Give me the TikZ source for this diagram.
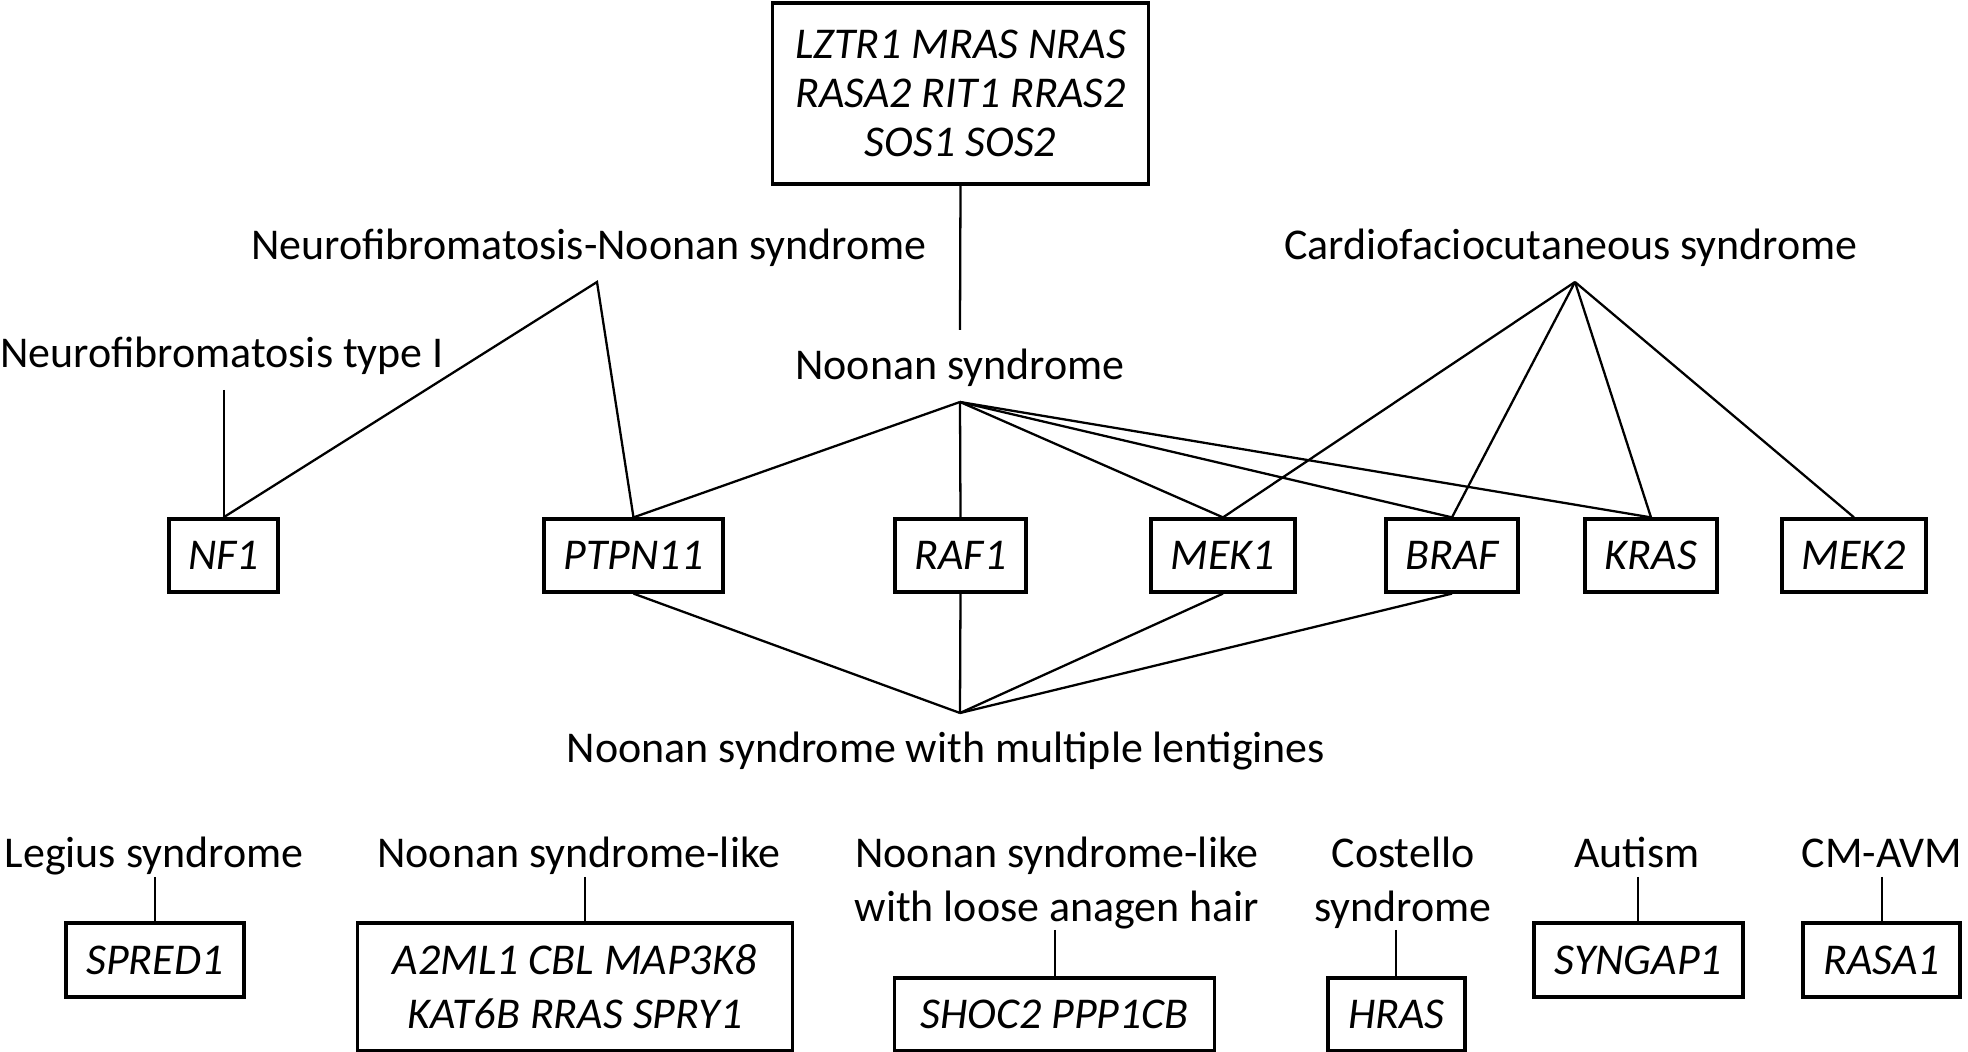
\documentclass[tikz,border=0pt]{standalone}
\usepackage{fontspec}
\setmainfont{Carlito}
\usetikzlibrary{positioning, calc}

\begin{document}
\begin{tikzpicture}[x=0.01cm, y=-0.01cm,
    every node/.style={font=\fontsize{12.5}{15.4}\selectfont},
    gene/.style={draw, line width=0.9pt, inner sep=0pt, minimum height=0.73cm, align=center,
        font=\fontsize{12.5}{15.3}\selectfont\itshape},
    syn/.style={inner sep=0pt, anchor=base, align=center},
    link/.style={line width=0.65pt}]
\useasboundingbox (0,0) rectangle (1968,1052);

% gene boxes
\node[gene, minimum width=3.75cm, minimum height=1.81cm,
      font=\fontsize{12.5}{13.9}\selectfont\itshape] (top) at (960.5,93.5)
      {LZTR1 MRAS NRAS\\RASA2 RIT1 RRAS2\\SOS1 SOS2};
\node[gene, minimum width=1.09cm] (nf1) at (223.5,555.5) {NF1};
\node[gene, minimum width=1.79cm] (ptpn11) at (633.5,555.5) {PTPN11};
\node[gene, minimum width=1.31cm] (raf1) at (960.5,555.5) {RAF1};
\node[gene, minimum width=1.44cm] (mek1) at (1223,555.5) {MEK1};
\node[gene, minimum width=1.32cm] (braf) at (1452,555.5) {BRAF};
\node[gene, minimum width=1.32cm] (kras) at (1651,555.5) {KRAS};
\node[gene, minimum width=1.44cm] (mek2) at (1854,555.5) {MEK2};

\node[gene, minimum width=1.78cm, minimum height=0.74cm] (spred1) at (155,960) {SPRED1};
\node[gene, minimum width=4.34cm, minimum height=1.28cm] (a2ml1) at (575,987) {A2ML1 CBL MAP3K8\\KAT6B RRAS SPRY1};
\node[gene, minimum width=3.19cm] (shoc2) at (1054.5,1014.5) {SHOC2 PPP1CB};
\node[gene, minimum width=1.37cm] (hras) at (1396.5,1014.5) {HRAS};
\node[gene, minimum width=2.09cm, minimum height=0.74cm] (syngap1) at (1638.5,960) {SYNGAP1};
\node[gene, minimum width=1.57cm, minimum height=0.74cm] (rasa1) at (1881.5,960) {RASA1};

% syndromes (two-line ones sit on their last line)
\node[syn] (nfns) at (589,260) {Neurofibromatosis-Noonan syndrome};
\node[syn] (cfc) at (1571,260) {Cardiofaciocutaneous syndrome};
\node[syn] (nft1) at (222,368) {Neurofibromatosis type I};
\node[syn] (ns) at (960,380) {Noonan syndrome};
\node[syn] (nsml) at (946,763) {Noonan syndrome with multiple lentigines};
\node[syn] (legius) at (154,868) {Legius syndrome};
\node[syn] (nslike) at (579,868) {Noonan syndrome-like};
\node[syn] (nslah) at (1057,922) {Noonan syndrome-like\\with loose anagen hair};
\node[syn] (costello) at (1403,922) {Costello\\syndrome};
\node[syn] (autism) at (1637,868) {Autism};
\node[syn] (cmavm) at (1882,868) {CM-AVM};

\coordinate (nfns-c) at (597,282);
\coordinate (cfc-c) at (1575,282);
\coordinate (ns-t) at (960,330);
\coordinate (ns-c) at (960,402);
\coordinate (nsml-c) at (960,713);
\coordinate (nft1-c) at (224,390);
\coordinate (legius-c) at (155,877);
\coordinate (nslike-c) at (585,877);
\coordinate (nslah-c) at (1055,930);
\coordinate (costello-c) at (1396,930);
\coordinate (autism-c) at (1638,877);
\coordinate (cmavm-c) at (1882,877);

% links
\draw[link] (top.south) -- (ns-t);
\draw[link] (nft1-c) -- (nft1-c |- nf1.north);
\draw[link] (nf1.north) -- (nfns-c) -- (ptpn11.north);
\foreach \g in {ptpn11,raf1,mek1,braf,kras}
    \draw[link] (ns-c) -- (\g.north);
\foreach \g in {mek1,braf,kras,mek2}
    \draw[link] (cfc-c) -- (\g.north);
\foreach \g in {ptpn11,raf1,mek1,braf}
    \draw[link] (nsml-c) -- (\g.south);
\draw[link] (legius-c) -- (legius-c |- spred1.north);
\draw[link] (nslike-c) -- (nslike-c |- a2ml1.north);
\draw[link] (nslah-c) -- (nslah-c |- shoc2.north);
\draw[link] (costello-c) -- (costello-c |- hras.north);
\draw[link] (autism-c) -- (autism-c |- syngap1.north);
\draw[link] (cmavm-c) -- (cmavm-c |- rasa1.north);
\end{tikzpicture}
\end{document}
